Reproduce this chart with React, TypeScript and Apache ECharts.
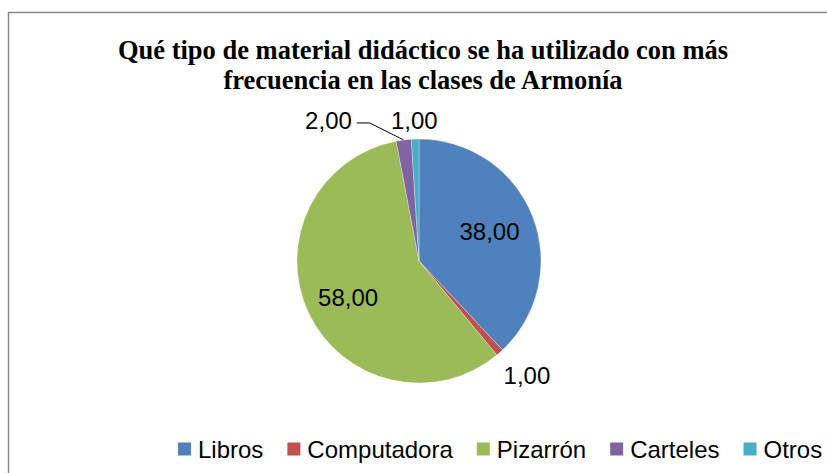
import React, { useEffect, useRef } from "react";
import * as echarts from "echarts";

const titleLines = [
  "Qué tipo de material didáctico se ha utilizado con más",
  "frecuencia en las clases de Armonía",
];
const categories = ["Libros", "Computadora", "Pizarrón", "Carteles", "Otros"];
const values = [38, 1, 58, 2, 1];
const colors = ["#4F81BD", "#C0504D", "#9BBB59", "#8064A2", "#4BACC6"];
const labelPositions = ["inside", "outside", "inside", "outside", "outside"];
const labelOffsets: number[][] = [
  [11, -6],
  [-41, 12],
  [-13, 9],
  [-15, -5],
  [58, -4],
];

const CENTER = [419, 261];
const RADIUS = 122;

const fmt = (v: number) => v.toFixed(2).replace(".", ",");

export default function App() {
  const ref = useRef<HTMLDivElement>(null);
  useEffect(() => {
    if (!ref.current) return;
    const chart = echarts.init(ref.current, undefined, { renderer: "svg" });
    const labelFont = "'Liberation Sans', Arial, sans-serif";
    const total = values.reduce((a, b) => a + b, 0);
    const edgePoint = (i: number) => {
      let before = 0;
      for (let k = 0; k < i; k++) before += values[k];
      const mid = ((before + values[i] / 2) / total) * Math.PI * 2;
      return [CENTER[0] + RADIUS * Math.sin(mid), CENTER[1] - RADIUS * Math.cos(mid)];
    };
    chart.setOption({
      animation: false,
      backgroundColor: "#ffffff",
      title: {
        text: titleLines.join("\n"),
        left: 423,
        top: 35,
        padding: 0,
        textAlign: "center",
        textStyle: {
          fontFamily: "'Liberation Serif', 'Times New Roman', serif",
          fontWeight: "bold",
          fontSize: 26.5,
          lineHeight: 30,
          color: "#000",
        },
      },
      graphic: [
        {
          type: "rect",
          shape: { x: 8.5, y: 12.5, width: 840, height: 480 },
          style: { fill: "none", stroke: "#8a8a8a", lineWidth: 1.5 },
          silent: true,
          z: -1,
        },
      ],
      legend: {
        data: categories,
        left: 176,
        top: 437,
        width: 800,
        padding: 0,
        itemWidth: 15,
        itemHeight: 15,
        itemGap: 22,
        icon: "rect",
        textStyle: {
          fontFamily: labelFont,
          fontSize: 24,
          color: "#000",
          padding: [0, 0, 0, 1],
        },
      },
      series: [
        {
          type: "pie",
          center: CENTER,
          radius: RADIUS,
          startAngle: 90,
          clockwise: true,
          avoidLabelOverlap: false,
          itemStyle: { borderColor: "#ffffff", borderWidth: 0.3 },
          label: {
            fontFamily: labelFont,
            fontSize: 24,
            color: "#000",
            formatter: (p: any) => fmt(p.value),
          },
          labelLine: { show: false },
          labelLayout: (params: any) => {
            const i = params.dataIndex;
            const res: any = { dx: labelOffsets[i][0], dy: labelOffsets[i][1] };
            if (i === 3) {
              const p0 = edgePoint(i);
              res.labelLinePoints = [
                [p0[0], p0[1]],
                [p0[0] - 34, p0[1] - 17],
                [p0[0] - 47, p0[1] - 17],
              ];
            }
            return res;
          },
          data: categories.map((name, i) => ({
            name,
            value: values[i],
            itemStyle: { color: colors[i] },
            label: { position: labelPositions[i] },
            labelLine: {
              show: i === 3,
              lineStyle: { color: "#000", width: 1 },
            },
          })),
        },
      ],
    });
    return () => chart.dispose();
  }, []);
  return (
    <div
      ref={ref}
      style={{ position: "fixed", left: 0, top: 0, width: 827, height: 473 }}
    />
  );
}
